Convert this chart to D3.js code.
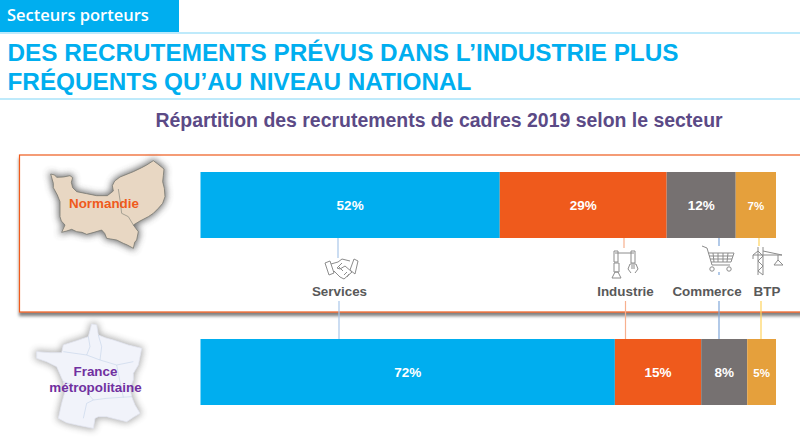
<!DOCTYPE html>
<html>
<head>
<meta charset="utf-8">
<script src="https://cdn.jsdelivr.net/npm/d3@7"></script>
<style>
html, body {margin: 0; padding: 0; background: #fff; overflow: hidden;}
svg {display: block;}
text {font-family: "Liberation Sans", Arial, sans-serif;}
</style>
</head>
<body>
<div id="chart"></div>
<script>
// data
const zones = ["Normandie", "France"];
const sectors = ["Services", "Industrie", "Commerce", "BTP"];
const normandie = [52, 29, 12, 7];
const france = [72, 15, 8, 5];
const colors = ["#00aeef", "#ef5a1c", "#767171", "#e5a03c"];
const lineColors = ["#a9c7ea", "#f7b08e", "#7fa6d9", "#ffd35c"];

// outlines of the two maps, roughly traced
const normandieOutline = [[92,87],[104,90],[110,97],[130,96],[150,92],[158,98],[154,112],[158,128],[170,140],[200,146],[230,152],[262,152],[280,138],[277,122],[284,108],[300,96],[315,90],[340,80],[365,68],[380,60],[400,47],[412,56],[432,72],[430,92],[428,110],[433,130],[435,155],[428,175],[415,190],[400,205],[385,215],[360,228],[340,240],[355,260],[350,285],[344,292],[340,310],[322,300],[310,295],[290,285],[272,282],[260,280],[254,265],[245,255],[222,262],[200,268],[186,262],[170,260],[155,253],[140,258],[125,262],[135,240],[124,228],[120,215],[120,170],[112,150],[100,128],[100,115]];
const normandieBorder = [[295,132],[300,165],[305,205],[325,215],[340,240]];
const franceOutline = [[215,42],[230,45],[235,75],[258,84],[280,90],[325,105],[365,115],[360,140],[355,165],[340,190],[340,210],[330,235],[335,260],[345,285],[360,310],[340,322],[320,335],[290,328],[260,320],[235,320],[225,325],[220,355],[195,350],[170,345],[140,338],[115,325],[125,280],[135,245],[130,215],[110,170],[80,155],[50,145],[50,125],[90,128],[125,128],[130,105],[170,92],[205,80]];
const franceBorders = [
  [[205,80],[210,110],[200,135],[130,125]],
  [[200,135],[240,150],[290,165],[340,155]],
  [[235,75],[245,110],[240,150]],
  [[130,215],[190,235],[220,270],[260,265],[335,260]],
  [[220,270],[200,280],[190,325]],
  [[290,165],[300,215],[310,262]]
];

const width = 800, height = 439;
const barX = d3.scaleLinear().domain([0, 100]).range([200.5, 776]);
const barY = d3.scaleOrdinal().domain(zones).range([172, 339]);
const barH = 66;

const svg = d3.select("#chart").append("svg").attr("width", width).attr("height", height);

const defs = svg.append("defs");
defs.append("filter").attr("id", "boxShadow")
  .attr("x", "-5%").attr("y", "-10%").attr("width", "110%").attr("height", "120%")
  .append("feDropShadow").attr("dx", 0).attr("dy", 3.5)
  .attr("stdDeviation", 1.5).attr("flood-color", "#000").attr("flood-opacity", 0.5);
defs.append("filter").attr("id", "mapBlur")
  .attr("x", "-30%").attr("y", "-30%").attr("width", "160%").attr("height", "160%")
  .append("feGaussianBlur").attr("stdDeviation", 3.5);

// header
svg.append("rect").attr("width", 179).attr("height", 32).attr("fill", "#00aeef");
svg.append("text").attr("x", 7).attr("y", 21).text("Secteurs porteurs")
  .attr("fill", "#fff").attr("font-size", 16.5).attr("font-weight", 600)
  .style("font-family", "'Open Sans', sans-serif");
[33, 99].forEach(y => svg.append("line").attr("x1", 0).attr("x2", width)
  .attr("y1", y).attr("y2", y).attr("stroke", "#7fd6f7").attr("stroke-width", 1.2));
["DES RECRUTEMENTS PRÉVUS DANS L’INDUSTRIE PLUS", "FRÉQUENTS QU’AU NIVEAU NATIONAL"].forEach((t, i) => {
  svg.append("text").attr("x", 7.5).attr("y", 61 + i * 29).text(t)
    .attr("fill", "#00aeef").attr("font-size", 24.3).attr("font-weight", "bold");
});
svg.append("text").attr("x", 439).attr("y", 127).attr("text-anchor", "middle")
  .text("Répartition des recrutements de cadres 2019 selon le secteur")
  .attr("fill", "#5b4a86").attr("font-size", 19.45).attr("font-weight", "bold");

// Normandie box
svg.append("rect").attr("x", 19.5).attr("y", 155).attr("width", 800).attr("height", 157)
  .attr("fill", "#fff").attr("stroke", "#ef5a1c").attr("stroke-width", 1.2)
  .attr("filter", "url(#boxShadow)");

// stacked bars
const rows = zones.map((z, i) => {
  const vals = i === 0 ? normandie : france;
  const row = {zone: z};
  sectors.forEach((s, j) => row[s] = vals[j]);
  return row;
});
const stacked = d3.stack().keys(sectors)(rows);
const groups = svg.selectAll("g.sector").data(stacked).join("g").attr("class", "sector");
groups.selectAll("rect").data(d => d).join("rect")
  .attr("x", d => barX(d[0]))
  .attr("y", d => barY(d.data.zone))
  .attr("width", d => barX(d[1]) - barX(d[0]))
  .attr("height", barH)
  .attr("fill", (d, i, n) => colors[sectors.indexOf(d3.select(n[i].parentNode).datum().key)]);
groups.selectAll("text").data(d => d).join("text")
  .attr("x", d => (barX(d[0]) + barX(d[1])) / 2)
  .attr("y", d => barY(d.data.zone) + barH / 2 + 5)
  .attr("text-anchor", "middle")
  .attr("fill", "#fff").attr("font-weight", "bold")
  .attr("font-size", d => d[1] - d[0] < 8 && d[0] > 90 ? 11.5 : 13.5)
  .text(d => (d[1] - d[0]) + "%");

// connectors and labels
const labelX = [339.5, 625.5, 707, 767];
const lineTop = [338, 624, 719, 759];
const lineBottom = [339, 625.5, 719, 761];
sectors.forEach((s, i) => {
  svg.append("line").attr("x1", lineTop[i]).attr("x2", lineTop[i])
    .attr("y1", 238).attr("y2", i === 1 ? 248 : (i === 0 ? 258 : 246))
    .attr("stroke", lineColors[i]).attr("stroke-width", 1.2);
  svg.append("line").attr("x1", lineBottom[i]).attr("x2", lineBottom[i])
    .attr("y1", 301).attr("y2", 339)
    .attr("stroke", lineColors[i]).attr("stroke-width", 1.2);
  svg.append("text").attr("x", labelX[i]).attr("y", 296).attr("text-anchor", "middle")
    .text(s).attr("fill", "#595959").attr("font-size", 13.4).attr("font-weight", "bold");
});
svg.append("line").attr("x1", 719).attr("x2", 719).attr("y1", 272).attr("y2", 275)
  .attr("stroke", lineColors[2]).attr("stroke-width", 1.2);

// icons
const icon = (x, y) => svg.append("g").attr("transform", `translate(${x},${y})`)
  .attr("fill", "none").attr("stroke", "#8c8c8c").attr("stroke-width", 1);

// handshake
const hand = icon(325, 258);
hand.append("path").attr("d", "M0 5 L5 3 L9 15 L4 17 Z M33 3 L29 1 L25 12 L30 16 Z");
hand.append("path").attr("d", "M6 6 L13 4 L17 1 L25 3 M9 13 L15 19 L19 21 L27 14 M13 8 L18 13 M17 5 L12 10 L15 11 L20 8 L27 14 M19 17 L22 14 M22 19 L24 16");

// robot arm
const robot = icon(611, 250);
robot.append("path").attr("d", "M4 3 H23 M3 1 H7 V12 H3 Z M20 1 H24 V13 H20 Z M3 13 H8 V22 H3 Z M1 28 L4 22 H7 L10 28 Z");
robot.append("path").attr("d", "M19 14 H25 M19 14 L17 19 L20 23 M25 14 L27 19 L24 23 M21 15 V19 M23 15 V19");

// shopping cart
const cart = icon(702, 245);
cart.append("path").attr("d", "M0 1 L5 3 L10 20 H28 M6 8 H32 L29 17 H9 M11 8 L12 17 M16 8 V17 M21 8 V17 M26 8 L25 17 M7 11 H31 M8 14 H30");
cart.append("circle").attr("cx", 10).attr("cy", 24).attr("r", 2.2);
cart.append("circle").attr("cx", 27).attr("cy", 24).attr("r", 2.2);

// crane
const crane = icon(752, 246);
crane.append("path").attr("d", "M6 1 V29 M11 1 V29 M6 5 L11 10 L6 15 L11 20 L6 25 L11 29 M1 9 L6 5 M1 9 V13 M1 9 H30 M11 5 L30 9 M26 9 V14 M22 19 L26 14 L31 19 Z");

// maps
const mapLine = d3.line().curve(d3.curveLinear);
const drawMap = (outline, borders, ox, oy, fill, stroke, borderColor, borderOpacity, shadowOpacity) => {
  const px = d3.scaleLinear().domain([0, 570]).range([ox, ox + 190]);
  const py = d3.scaleLinear().domain([0, 390]).range([oy, oy + 130]);
  const scaled = pts => pts.map(p => [px(p[0]), py(p[1])]);
  const g = svg.append("g");
  // blurred copy underneath for the shadow
  g.append("path").attr("d", mapLine(scaled(outline)) + "Z")
    .attr("fill", "#444").attr("stroke", "#444").attr("stroke-width", 3)
    .attr("opacity", shadowOpacity).attr("filter", "url(#mapBlur)");
  g.append("path").attr("d", mapLine(scaled(outline)) + "Z")
    .attr("fill", fill).attr("stroke", stroke).attr("stroke-width", 0.8);
  borders.forEach(b => g.append("path").attr("d", mapLine(scaled(b)))
    .attr("fill", "none").attr("stroke", borderColor).attr("stroke-width", 0.7)
    .attr("opacity", borderOpacity));
};
drawMap(normandieOutline, [normandieBorder], 20, 145, "#e8d7c3", "#7a7a72", "#8a8a80", 1, 0.8);
drawMap(franceOutline, franceBorders, 20, 310, "#f1f3fa", "#e3e6f1", "#b9cbe4", 0.7, 0.45);

svg.append("text").attr("x", 104).attr("y", 208).attr("text-anchor", "middle")
  .text("Normandie").attr("fill", "#ef5a1c").attr("font-size", 13.4).attr("font-weight", "bold");
["France", "métropolitaine"].forEach((t, i) => {
  svg.append("text").attr("x", 95.5).attr("y", 376 + i * 16).attr("text-anchor", "middle")
    .text(t).attr("fill", "#7030a0").attr("font-size", 13.4).attr("font-weight", "bold");
});
</script>
</body>
</html>
